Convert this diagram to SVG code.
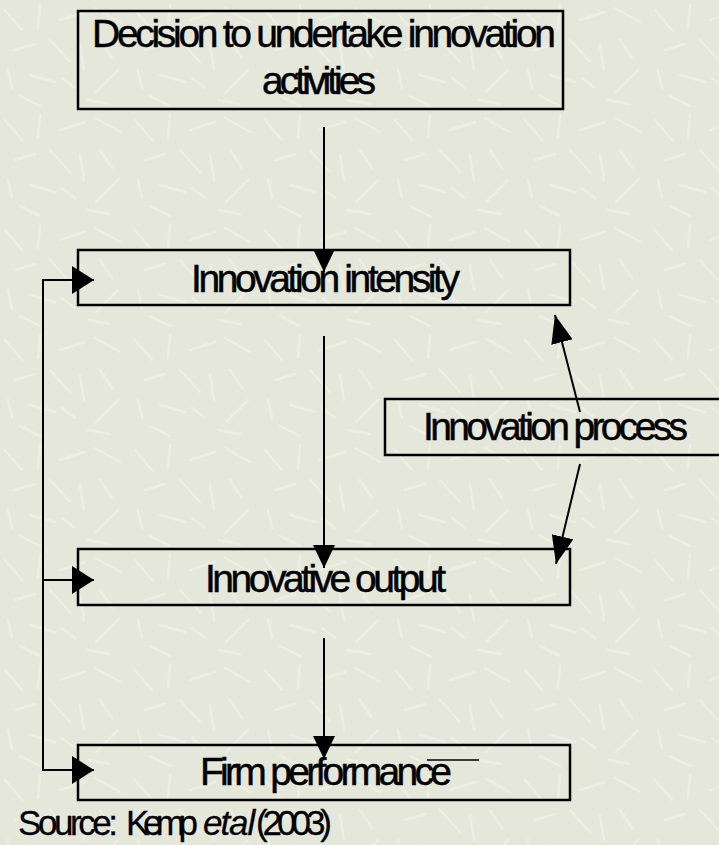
<svg xmlns="http://www.w3.org/2000/svg" width="719" height="845" viewBox="0 0 719 845">
<style>
.box{fill:none;stroke:#000;stroke-width:2.5}
.t{font-family:"Liberation Sans",Arial,sans-serif;font-size:39px;fill:#000;stroke:#000;stroke-width:0.5}
.s{font-size:35px;stroke-width:0.3}
.c{stroke:#000;stroke-width:2;fill:none}
.bg{stroke:#f2f3e9;stroke-width:2.5;stroke-linecap:round;fill:none;opacity:0.55}
</style>
<defs>
<marker id="av" markerUnits="userSpaceOnUse" markerWidth="23" markerHeight="22" refX="23" refY="11" orient="auto" viewBox="0 0 23 22">
<path d="M0,0 L23,11 L0,22 z" fill="#000"/>
</marker>
<marker id="ah" markerUnits="userSpaceOnUse" markerWidth="22" markerHeight="28" refX="22" refY="14" orient="auto" viewBox="0 0 22 28">
<path d="M0,0 L22,14 L0,28 z" fill="#000"/>
</marker>
<marker id="ad" markerUnits="userSpaceOnUse" markerWidth="28" markerHeight="22" refX="28" refY="11" orient="auto" viewBox="0 0 28 22">
<path d="M0,0 L28,11 L0,22 z" fill="#000"/>
</marker>
<pattern id="tex" patternUnits="userSpaceOnUse" width="130" height="110">
<path class="bg" d="M5,10 L22,30 M40,5 L38,28 M60,20 L85,12 M15,50 L35,44 M50,40 L70,62 M80,45 L84,70 M8,70 L12,88 M30,75 L55,82 M62,78 L75,88 M95,8 L120,22 M100,40 L112,58 M118,70 L96,92 M88,100 L110,104 M20,96 L40,106"/>
</pattern>
</defs>
<rect width="719" height="845" fill="#e6e7db"/>
<rect width="719" height="845" fill="url(#tex)"/>
<g id="connectors">
<path class="c" d="M324,127 V272" marker-end="url(#av)"/>
<path class="c" d="M324,336 V568" marker-end="url(#av)"/>
<path class="c" d="M324,638 V759" marker-end="url(#av)"/>
<path class="c" d="M43,770 V280 H94" marker-end="url(#ah)"/>
<path class="c" d="M43,580 H94" marker-end="url(#ah)"/>
<path class="c" d="M43,769 V770 H94" marker-end="url(#ah)"/>
<path class="c" d="M580,412 L555,315" marker-end="url(#ad)"/>
<path class="c" d="M580,464 L556,564" marker-end="url(#ad)"/>
</g>
<g id="decision">
<rect class="box" x="78" y="11" width="485" height="98"/>
<text class="t" x="92" y="47" textLength="464" lengthAdjust="spacing">Decision to undertake innovation</text>
<text class="t" x="262" y="94" textLength="114" lengthAdjust="spacing">activities</text>
</g>
<g id="intensity">
<rect class="box" x="78" y="250" width="492" height="55"/>
<text class="t" x="191" y="292" textLength="269" lengthAdjust="spacing">Innovation intensity</text>
</g>
<g id="process">
<rect class="box" x="385" y="399" width="345" height="56"/>
<text class="t" x="423" y="440" textLength="265" lengthAdjust="spacing">Innovation process</text>
</g>
<g id="output">
<rect class="box" x="78" y="549" width="492" height="56"/>
<text class="t" x="205" y="592" textLength="241" lengthAdjust="spacing">Innovative output</text>
</g>
<g id="performance">
<rect class="box" x="78" y="745" width="492" height="55"/>
<text class="t" x="200" y="785" textLength="252" lengthAdjust="spacing">Firm performance</text>
<line x1="427" y1="760" x2="479" y2="760" stroke="#000" stroke-width="1.5"/>
</g>
<g id="source">
<text class="t s" x="18" y="835"><tspan textLength="100" lengthAdjust="spacing">Source:</tspan><tspan x="126" textLength="72" lengthAdjust="spacing">Kemp</tspan><tspan x="203" font-style="italic" letter-spacing="-2">et</tspan><tspan x="229" font-style="italic" letter-spacing="-1">al</tspan><tspan x="256" textLength="76" lengthAdjust="spacing">(2003)</tspan></text>
</g>
</svg>
